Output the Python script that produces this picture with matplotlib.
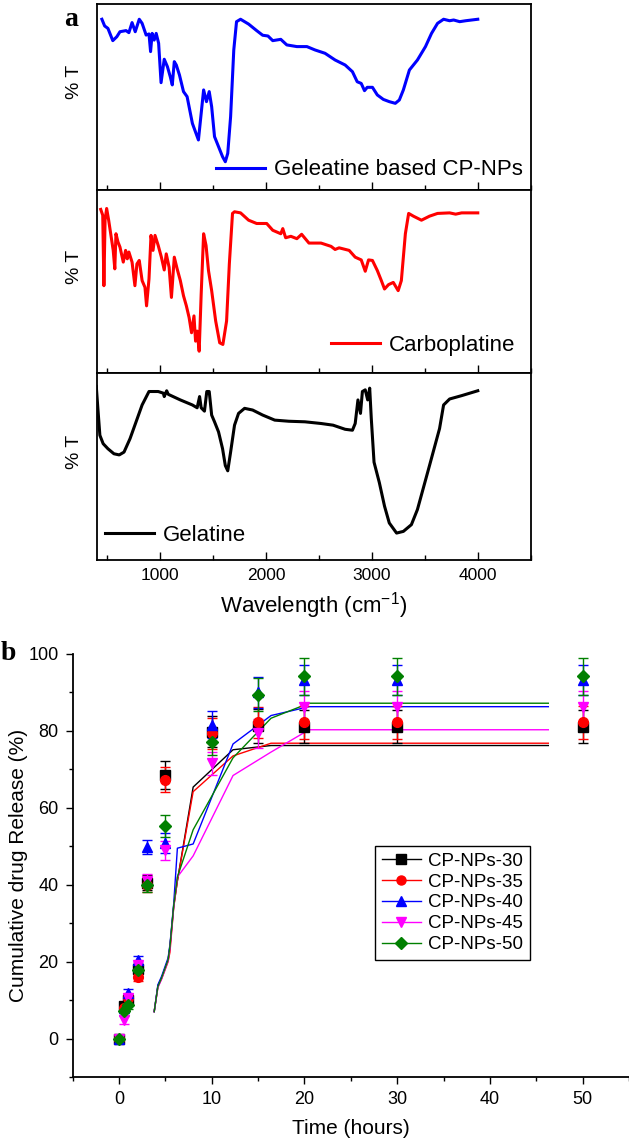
import numpy as np
import matplotlib
matplotlib.use("Agg")
import matplotlib.pyplot as plt
from matplotlib.ticker import MultipleLocator

plt.rcParams['font.family'] = ['Liberation Sans', 'DejaVu Sans']
plt.rcParams['mathtext.default'] = 'regular'

# ---- panel a: FTIR spectra (arbitrary %T scale, 0-100 of panel height) ----
wn_np = [449, 475, 506, 552, 590, 620, 677, 704, 734, 764, 802, 829, 867, 894, 909, 924,
         943, 962, 985, 1008, 1038, 1068, 1095, 1114, 1133, 1152, 1182, 1220, 1254, 1304,
         1361, 1410, 1437, 1463, 1486, 1513, 1551, 1589, 1615, 1638, 1665, 1695, 1721, 1759,
         1835, 1911, 1968, 2018, 2063, 2139, 2196, 2291, 2386, 2462, 2557, 2652, 2747, 2816,
         2861, 2899, 2930, 2956, 3005, 3051, 3108, 3164, 3221, 3259, 3297, 3354, 3430, 3506,
         3563, 3620, 3677, 3734, 3772, 3829, 3886, 4000]
t_np = [91.8, 88.2, 86.9, 80.3, 82.4, 85.1, 85.7, 84.6, 90.0, 85.1, 91.8, 89.6, 83.3, 83.9,
        74.4, 84.2, 80.6, 84.2, 78.9, 57.7, 70.3, 66.3, 60.9, 56.5, 69.0, 67.2, 61.8, 52.9,
        50.2, 35.8, 26.9, 53.8, 47.5, 52.9, 44.8, 28.7, 23.3, 17.9, 15.2, 19.7, 39.4, 75.3,
        90.5, 91.8, 89.2, 85.7, 83.2, 82.8, 80.3, 81.0, 78.0, 77.1, 77.1, 75.3, 73.5, 69.9,
        67.2, 63.6, 58.2, 57.3, 53.4, 55.2, 55.2, 51.1, 48.7, 47.5, 46.6, 48.4, 53.8, 64.5,
        69.9, 77.1, 84.2, 89.6, 91.8, 91.0, 91.4, 90.5, 91.0, 91.8]

wn_cp = [438, 457, 468, 479, 494, 513, 537, 556, 571, 582, 601, 620, 651, 673, 689, 704,
         734, 761, 780, 802, 829, 856, 871, 894, 913, 932, 951, 981, 1011, 1038, 1057, 1084,
         1106, 1133, 1160, 1190, 1220, 1247, 1273, 1296, 1319, 1334, 1349, 1368, 1387, 1410,
         1433, 1456, 1486, 1524, 1562, 1592, 1627, 1653, 1683, 1702, 1759, 1835, 1911, 2006,
         2063, 2139, 2158, 2185, 2234, 2291, 2336, 2405, 2519, 2614, 2652, 2690, 2785, 2842,
         2899, 2937, 2968, 3005, 3051, 3089, 3119, 3157, 3202, 3248, 3278, 3316, 3347, 3392,
         3468, 3544, 3620, 3734, 3791, 3848, 4000]
t_cp = [89.4, 86.2, 47.7, 83.5, 89.9, 83.5, 74.3, 67.0, 56.9, 76.1, 71.6, 68.8, 60.6, 67.0,
        62.4, 66.1, 60.6, 47.7, 59.6, 61.5, 50.5, 46.8, 36.7, 51.4, 75.2, 67.0, 75.2, 69.7,
        63.3, 56.3, 65.1, 57.8, 41.3, 63.3, 56.9, 50.5, 42.2, 36.7, 30.3, 22.0, 31.2, 17.4,
        22.9, 11.9, 43.1, 76.1, 69.7, 56.0, 45.0, 28.4, 16.5, 15.6, 28.4, 59.6, 87.2, 88.1,
        87.5, 83.5, 81.7, 81.7, 78.0, 76.1, 78.9, 73.9, 74.7, 73.4, 75.8, 71.0, 71.0, 69.2,
        67.5, 68.4, 67.0, 63.3, 61.8, 55.6, 61.8, 61.5, 56.0, 50.5, 45.9, 48.3, 49.5, 45.0,
        50.5, 76.1, 87.2, 85.7, 83.5, 85.7, 87.2, 87.5, 86.8, 87.5, 87.5]

wn_gel = [396, 411, 430, 461, 506, 563, 613, 658, 715, 772, 829, 894, 981, 1030, 1038, 1061,
          1076, 1190, 1304, 1349, 1372, 1387, 1418, 1440, 1463, 1486, 1513, 1551, 1589, 1615,
          1638, 1665, 1702, 1740, 1797, 1873, 1968, 2082, 2215, 2367, 2519, 2633, 2747, 2816,
          2842, 2868, 2892, 2910, 2937, 2960, 2979, 2994, 3020, 3070, 3119, 3164, 3233, 3297,
          3373, 3430, 3544, 3639, 3677, 3734, 3848, 4000]
t_gel = [92.8, 81.1, 66.7, 62.2, 59.5, 56.8, 56.2, 57.7, 64.9, 73.9, 82.9, 90.1, 90.1, 89.2,
         87.4, 90.5, 88.6, 85.6, 82.9, 81.4, 87.4, 81.4, 79.6, 90.1, 90.1, 77.5, 73.9, 68.5,
         59.5, 50.5, 47.7, 57.7, 72.1, 78.4, 81.1, 80.2, 77.5, 74.8, 74.2, 73.9, 73.0, 72.1,
         69.9, 69.4, 73.0, 85.6, 78.4, 90.1, 91.0, 85.6, 91.9, 75.7, 52.3, 41.4, 28.8, 19.8,
         14.4, 15.3, 18.9, 27.0, 50.5, 70.3, 82.9, 86.1, 87.9, 90.5]

# ---- panel b: cumulative release ----
time_h = [0, 0.5, 1, 2, 3, 5, 10, 15, 20, 30, 50]
rel_30 = [0, 8.5, 10.0, 18.0, 40.5, 68.6, 79.8, 81.3, 81.1, 81.1, 81.1]
rel_35 = [0, 8.0, 10.5, 16.0, 40.0, 67.3, 79.4, 82.2, 82.2, 82.2, 82.2]
rel_40 = [0, 8.0, 11.8, 20.5, 49.9, 50.8, 81.6, 90.0, 93.3, 93.3, 93.3]
rel_45 = [0, 4.9, 10.6, 19.0, 41.0, 49.0, 71.6, 79.4, 86.3, 86.3, 86.3]
rel_50 = [0, 7.1, 8.8, 17.9, 40.0, 55.3, 77.2, 89.4, 94.2, 94.2, 94.2]
err_30 = [0.3, 1, 1, 1, 2, 3.6, 4.0, 4.5, 4.3, 4.3, 4.3]
err_35 = [0.3, 1, 1, 1, 2, 3.3, 4.0, 4.0, 4.4, 4.4, 4.4]
err_40 = [0.3, 1, 1, 1, 1.8, 2.6, 3.5, 4.0, 3.9, 3.9, 3.9]
err_45 = [0.3, 1, 1, 1, 1.8, 2.5, 3.0, 3.8, 4.2, 4.2, 4.2]
err_50 = [0.3, 1, 1, 1, 1.8, 2.9, 3.5, 4.3, 4.8, 4.8, 4.8]

# fitted curves
fit_t = [3.8, 4.2, 4.6, 5.3, 5.5, 5.9, 6.3, 8.0, 12.3, 16.4, 20.5, 46.3]
fit_30 = [7, 13.8, 15.8, 20.5, 24.0, 34.4, 41.0, 65.4, 75.1, 76.2, 76.2, 76.2]
fit_35 = [7, 13.5, 15.5, 20.0, 22.5, 34.0, 41.0, 64.2, 73.5, 76.8, 76.8, 76.8]
fit_40 = [7, 14.0, 16.2, 21.0, 24.5, 35.0, 49.5, 50.6, 76.6, 84.0, 86.3, 86.3]
fit_45 = [7, 13.2, 15.5, 20.2, 23.5, 34.0, 42.0, 47.5, 68.4, 74.5, 80.3, 80.3]
fit_50 = [7, 13.5, 15.8, 20.5, 24.0, 34.5, 42.0, 54.3, 73.0, 83.3, 87.2, 87.2]

labels = ['CP-NPs-30', 'CP-NPs-35', 'CP-NPs-40', 'CP-NPs-45', 'CP-NPs-50']
colors = ['black', 'red', 'blue', 'magenta', 'green']
markers = ['s', 'o', '^', 'v', 'D']

fig = plt.figure(figsize=(6.29, 11.43), dpi=100)

# panel a axes (three stacked)
W, H = 629.0, 1143.0
left_a, right_a = 96.7, 530.7
rows = [(4, 190), (190, 373), (373, 560)]
spectra = [(wn_np, t_np, 'blue', 'Geleatine based CP-NPs'),
           (wn_cp, t_cp, 'red', 'Carboplatine'),
           (wn_gel, t_gel, 'black', 'Gelatine')]
leg_loc = [('center right', (0.982, 0.108)),
           ('center right', (0.964, 0.149)),
           ('center left', (0.019, 0.13))]
axes_a = []
for i, ((top, bot), (wn, tr, col, lab)) in enumerate(zip(rows, spectra)):
    ax = fig.add_axes([left_a / W, 1 - bot / H, (right_a - left_a) / W, (bot - top) / H])
    ax.plot(wn, tr, color=col, lw=2.2, label=lab)
    ax.set_xlim(400, 4500)
    ax.set_ylim(0, 100)
    ax.set_yticks([])
    ax.xaxis.set_major_locator(MultipleLocator(1000))
    ax.xaxis.set_minor_locator(MultipleLocator(500))
    ax.tick_params(axis='x', which='major', direction='in', length=6, width=1.0,
                   labelsize=12.5, pad=6, top=False)
    ax.tick_params(axis='x', which='minor', direction='in', length=3.5, width=1.0, top=False)
    if i < 2:
        ax.tick_params(axis='x', labelbottom=False)
    for s in ax.spines.values():
        s.set_linewidth(1.3)
    ax.set_ylabel('% T', fontsize=14)
    ax.yaxis.set_label_coords(-0.031, 0.58)
    loc, anchor = leg_loc[i]
    ax.legend(loc=loc, bbox_to_anchor=anchor, frameon=False, fontsize=16, handlelength=2.2,
              handletextpad=0.4, borderaxespad=0, borderpad=0)
    axes_a.append(ax)
axes_a[-1].set_xlabel('Wavelength (cm$^{-1}$)', fontsize=16, labelpad=5)
fig.text(71.4 / W, 1 - 20 / H, 'a', fontsize=20, fontweight='bold',
         family='Liberation Serif', ha='center', va='center')

# panel b
axb = fig.add_axes([72.6 / W, 1 - 1077 / H, (629 - 72.6) / W, (1077 - 654) / H])
series = [(rel_30, err_30, fit_30), (rel_35, err_35, fit_35), (rel_40, err_40, fit_40),
          (rel_45, err_45, fit_45), (rel_50, err_50, fit_50)]
for (rel, err, fit), col, mk in zip(series, colors, markers):
    axb.plot(fit_t, fit, color=col, lw=1.0)
for (rel, err, fit), col, mk, lab in zip(series, colors, markers, labels):
    axb.errorbar(time_h, rel, yerr=err, fmt=mk, color=col, ms=7 if mk != 'D' else 6.5,
                 mec=col, elinewidth=1.0, capsize=3.5, capthick=1.0)
# legend handles: line with marker
handles = [axb.plot([], [], color=c, marker=m, lw=1.0, ms=6.5)[0] for c, m in zip(colors, markers)]
leg = axb.legend(handles, labels, loc='upper left', bbox_to_anchor=(0.5435, 0.546),
                 borderaxespad=0, fontsize=13.5, handlelength=2.1, handletextpad=0.4,
                 labelspacing=0.2, borderpad=0.35, fancybox=False, framealpha=1,
                 edgecolor='black')
leg.get_frame().set_linewidth(1.0)

axb.set_xlim(-5, 55)
axb.set_ylim(-10, 100)
axb.xaxis.set_major_locator(MultipleLocator(10))
axb.xaxis.set_minor_locator(MultipleLocator(5))
axb.yaxis.set_major_locator(MultipleLocator(20))
axb.yaxis.set_minor_locator(MultipleLocator(10))
axb.spines['top'].set_visible(False)
axb.spines['right'].set_visible(False)
for s in ['left', 'bottom']:
    axb.spines[s].set_linewidth(1.3)
axb.tick_params(which='major', direction='out', length=5, width=1.0, labelsize=13, pad=5)
axb.tick_params(which='minor', direction='out', length=3, width=1.0)
axb.set_xlabel('Time (hours)', fontsize=15, labelpad=8)
axb.set_ylabel('Cumulative drug Release (%)', fontsize=15)
axb.yaxis.set_label_coords(-0.081, 0.5)
fig.text(8.8 / W, 1 - 653 / H, 'b', fontsize=20, fontweight='bold',
         family='Liberation Serif', ha='center', va='center')

fig.savefig('out.png', dpi=100)
